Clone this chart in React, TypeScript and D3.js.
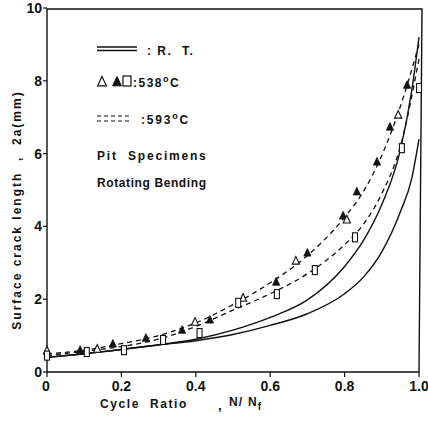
import React from "react";
import * as d3 from "d3";

const xTicks = [0, 0.2, 0.4, 0.6, 0.8, 1.0];
const xTickLabels = ["0", "0.2", "0.4", "0.6", "0.8", "1.0"];
const yTicks = [0, 2, 4, 6, 8, 10];
const yTickLabels = ["0", "2", "4", "6", "8", "10"];

// R.T. (solid) curves
const rtUpperX = [0, 0.1, 0.2, 0.3, 0.4, 0.5, 0.6, 0.7, 0.8, 0.85, 0.9, 0.95, 0.98, 1.0];
const rtUpperY = [0.4, 0.5, 0.62, 0.75, 0.9, 1.15, 1.5, 1.98, 2.9, 3.6, 4.6, 6.1, 7.7, 9.2];
const rtLowerX = [0, 0.1, 0.2, 0.3, 0.4, 0.5, 0.6, 0.7, 0.8, 0.85, 0.9, 0.95, 0.98, 1.0];
const rtLowerY = [0.4, 0.5, 0.62, 0.74, 0.86, 1.03, 1.28, 1.6, 2.15, 2.6, 3.3, 4.4, 5.3, 6.4];

// 593 C (dashed) curves
const dUpperX = [0, 0.1, 0.2, 0.3, 0.4, 0.5, 0.6, 0.7, 0.8, 0.85, 0.9, 0.95, 1.0];
const dUpperY = [0.5, 0.6, 0.78, 1.0, 1.35, 1.85, 2.45, 3.2, 4.25, 4.95, 5.95, 7.3, 9.0];
const dLowerX = [0, 0.1, 0.2, 0.3, 0.4, 0.5, 0.6, 0.7, 0.8, 0.85, 0.9, 0.95, 1.0];
const dLowerY = [0.45, 0.57, 0.7, 0.9, 1.25, 1.7, 2.15, 2.7, 3.5, 4.05, 4.9, 6.2, 8.6];

// 538 C markers
const filledTriX = [0.089, 0.177, 0.266, 0.363, 0.438, 0.616, 0.70, 0.796, 0.833, 0.887, 0.922, 0.968];
const filledTriY = [0.6, 0.77, 0.93, 1.15, 1.43, 2.47, 3.27, 4.29, 4.95, 5.77, 6.73, 7.88];
const openTriX = [0, 0.135, 0.398, 0.527, 0.669, 0.806, 0.944];
const openTriY = [0.58, 0.63, 1.37, 2.03, 3.05, 4.18, 7.06];
const squareX = [0, 0.107, 0.207, 0.312, 0.41, 0.514, 0.618, 0.72, 0.828, 0.954, 1.0];
const squareY = [0.45, 0.55, 0.6, 0.88, 1.07, 1.9, 2.14, 2.8, 3.7, 6.15, 7.8];

const W = 428;
const H = 424;
const FONT = "'Liberation Sans', Arial, Helvetica, sans-serif";

export default function App() {
  const x = d3.scaleLinear().domain([0, 1]).range([47, 419]);
  const y = d3.scaleLinear().domain([0, 10]).range([372, 8]);
  const line = d3
    .line<[number, number]>()
    .x((d) => x(d[0]))
    .y((d) => y(d[1]))
    .curve(d3.curveMonotoneX);
  const zip = (a: number[], b: number[]) => a.map((v, i) => [v, b[i]] as [number, number]);
  const ink = "#111";
  const tri = (cx: number, cy: number, s: number) =>
    `M${cx},${cy - s}L${cx + s * 0.8},${cy + s * 0.7}L${cx - s * 0.8},${cy + s * 0.7}Z`;

  return (
    <svg
      width={W}
      height={H}
      style={{ position: "absolute", left: 0, top: 0, background: "#fff" }}
      fontFamily={FONT}
    >
      <rect width={W} height={H} fill="#fff" />
      {/* frame */}
      <path
        d={`M${x(0)},${y(10) + 1}L${x(1) + 3},${y(10) + 1}L${x(1)},${y(0)}L${x(0)},${y(0)}Z`}
        fill="none"
        stroke={ink}
        strokeWidth={1.4}
      />
      {/* ticks */}
      {xTicks.map((t, i) => (
        <g key={"xt" + i}>
          <line x1={x(t)} x2={x(t)} y1={y(0)} y2={y(0) + 5} stroke={ink} strokeWidth={1.2} />
          <text
            x={x(t) + (i === 0 ? -1 : 0)}
            y={y(0) + 19}
            textAnchor="middle"
            fontSize={14}
            fontWeight="bold"
            fill={ink}
          >
            {xTickLabels[i]}
          </text>
        </g>
      ))}
      {yTicks.map((t, i) => (
        <g key={"yt" + i}>
          <line x1={x(0) - 4} x2={x(0)} y1={y(t)} y2={y(t)} stroke={ink} strokeWidth={1.2} />
          <text
            x={x(0) - 5}
            y={y(t) + 5}
            textAnchor="end"
            fontSize={14}
            fontWeight="bold"
            fill={ink}
          >
            {yTickLabels[i]}
          </text>
        </g>
      ))}
      {/* axis titles */}
      <text
        x={100}
        y={408}
        fontSize={12}
        fontWeight="bold"
        letterSpacing={1.6}
        fill={ink}
        style={{ whiteSpace: "pre" }}
      >
        {"Cycle  Ratio"}
      </text>
      <text x={218} y={410} fontSize={13} fontWeight="bold" fill={ink}>
        ,
      </text>
      <text x={229} y={406} fontSize={12} fontWeight="bold" letterSpacing={1.2} fill={ink}>
        N/ N
        <tspan fontSize={10} dy={4}>
          f
        </tspan>
      </text>
      <text
        transform={`translate(21,${210}) rotate(-90)`}
        textAnchor="middle"
        fontSize={12}
        fontWeight="bold"
        letterSpacing={2}
        fill={ink}
        style={{ whiteSpace: "pre" }}
      >
        {"Surface crack length  ,  2a(mm)"}
      </text>

      {/* curves */}
      <path d={line(zip(rtUpperX, rtUpperY)) || ""} fill="none" stroke={ink} strokeWidth={1.4} />
      <path d={line(zip(rtLowerX, rtLowerY)) || ""} fill="none" stroke={ink} strokeWidth={1.4} />
      <path
        d={line(zip(dUpperX, dUpperY)) || ""}
        fill="none"
        stroke={ink}
        strokeWidth={1.3}
        strokeDasharray="5,4"
      />
      <path
        d={line(zip(dLowerX, dLowerY)) || ""}
        fill="none"
        stroke={ink}
        strokeWidth={1.3}
        strokeDasharray="5,4"
      />

      {/* markers */}
      {filledTriX.map((v, i) => (
        <path key={"ft" + i} d={tri(x(v), y(filledTriY[i]), 4.5)} fill={ink} stroke={ink} strokeWidth={0.8} />
      ))}
      {openTriX.map((v, i) => (
        <path key={"ot" + i} d={tri(x(v), y(openTriY[i]), 4.5)} fill="#fff" stroke={ink} strokeWidth={1.1} />
      ))}
      {squareX.map((v, i) => (
        <rect
          key={"sq" + i}
          x={x(v) - 2.5}
          y={y(squareY[i]) - 4.5}
          width={5}
          height={9}
          fill="#fff"
          stroke={ink}
          strokeWidth={1.1}
        />
      ))}

      {/* legend */}
      <line x1={97} x2={137} y1={47} y2={47} stroke={ink} strokeWidth={1.4} />
      <line x1={97} x2={137} y1={50.5} y2={50.5} stroke={ink} strokeWidth={1.4} />
      <text x={147} y={55} fontSize={12} fontWeight="bold" letterSpacing={1.5} fill={ink} style={{ whiteSpace: "pre" }}>
        {": R.  T."}
      </text>
      <path d={tri(102, 82, 5.5)} fill="#fff" stroke={ink} strokeWidth={1.2} />
      <path d={tri(117, 82, 5.5)} fill={ink} stroke={ink} strokeWidth={1} />
      <rect x={123} y={76} width={8} height={10} fill="#fff" stroke={ink} strokeWidth={1.2} />
      <text x={133} y={87} fontSize={12} fontWeight="bold" letterSpacing={1.5} fill={ink}>
        :538
        <tspan fontSize={9} dy={-5}>o</tspan>
        <tspan dy={5}>C</tspan>
      </text>
      <line x1={97} x2={131} y1={116} y2={116} stroke={ink} strokeWidth={1.2} strokeDasharray="4,3" />
      <line x1={97} x2={131} y1={121} y2={121} stroke={ink} strokeWidth={1.2} strokeDasharray="4,3" />
      <text x={141} y={124} fontSize={12} fontWeight="bold" letterSpacing={1.8} fill={ink}>
        :593
        <tspan fontSize={9} dy={-5}>o</tspan>
        <tspan dy={5}>C</tspan>
      </text>
      <text x={97} y={160} fontSize={12} fontWeight="bold" letterSpacing={1.8} fill={ink} style={{ whiteSpace: "pre" }}>
        {"Pit  Specimens"}
      </text>
      <text x={97} y={187} fontSize={12} fontWeight="bold" letterSpacing={0.6} fill={ink}>
        Rotating Bending
      </text>
    </svg>
  );
}
